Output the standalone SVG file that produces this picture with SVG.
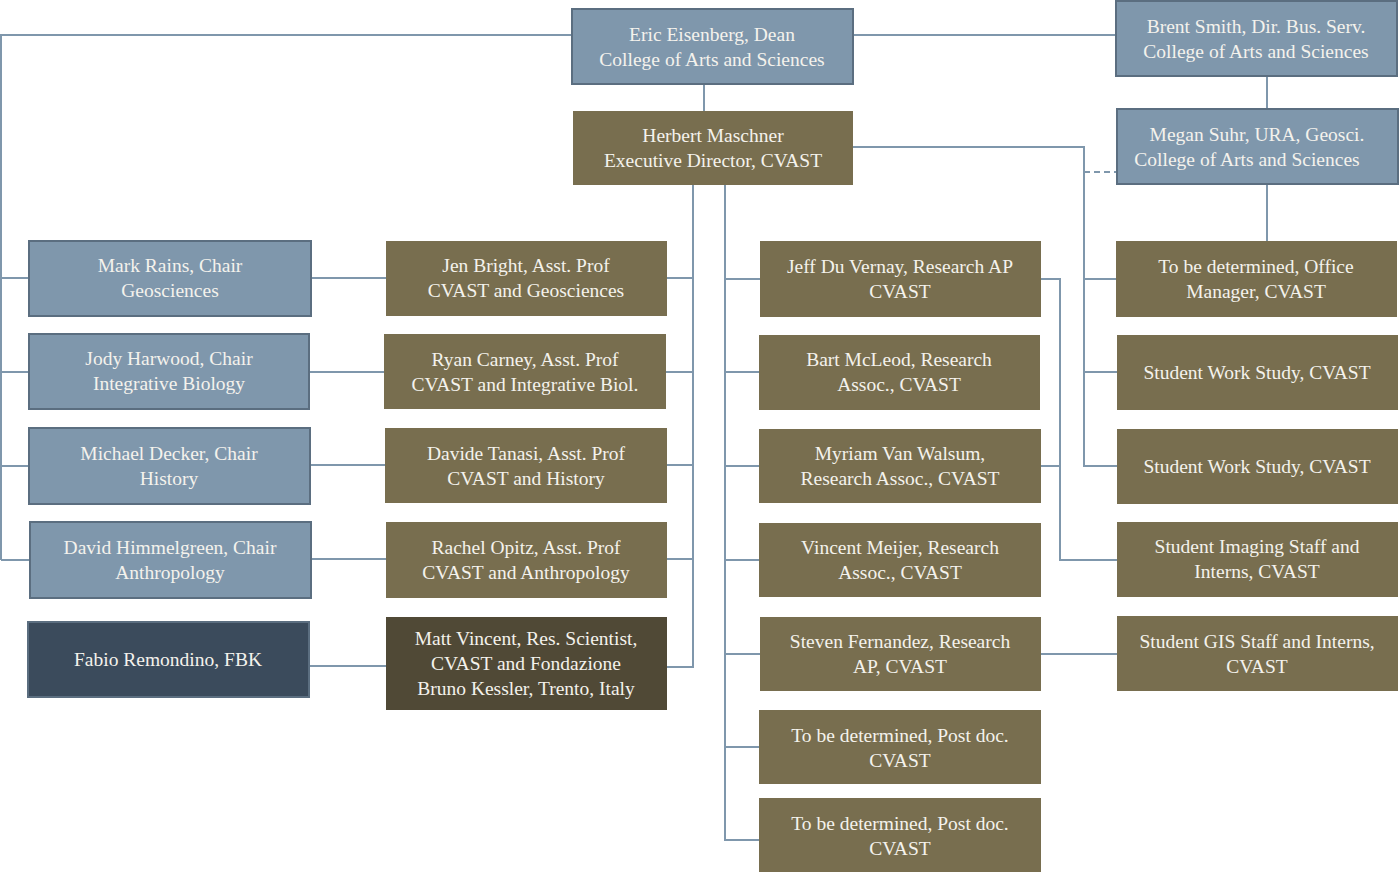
<svg xmlns="http://www.w3.org/2000/svg" width="1400" height="874" viewBox="0 0 1400 874">
<style>
.b{fill:#7f97ac;stroke:#5b6e80;stroke-width:2}
.o{fill:#786e4f}
.d{fill:#504936}
.n{fill:#3b4b5c;stroke:#5b6e80;stroke-width:2}
text{font-family:"Liberation Serif","Times New Roman",serif;font-size:19.5px;fill:#f4f2ec;text-anchor:middle}
.c{fill:none;stroke:#7f97ac;stroke-width:2}
.dash{stroke-dasharray:6 4}
</style>
<rect width="1400" height="874" fill="#fff"/>
<g id="connectors">
<path class="c" d="M572 35H1V560M1 278H29M1 372H29M1 466H29M1 560H30"/>
<path class="c" d="M853 35H1116"/>
<path class="c" d="M704 84V111"/>
<path class="c" d="M1267 76V109M1267 184V241"/>
<path class="c dash" d="M1084 172H1117"/>
<path class="c" d="M853 147H1084V466H1117M1084 279H1116M1084 372H1117"/>
<path class="c" d="M693 185V667H667M693 278H667M693 372H666M693 465H667M693 559H667"/>
<path class="c" d="M725 185V840H759M725 279H760M725 372H759M725 466H759M725 560H759M725 654H760M725 747H759"/>
<path class="c" d="M311 278H386M309 372H384M310 465H385M311 559H386M309 666H386"/>
<path class="c" d="M1041 279H1060V560H1117M1041 466H1060"/>
<path class="c" d="M1041 654H1117"/>
</g>
<g id="eric"><rect class="b" x="572" y="9" width="281" height="75"/><text x="712" y="41">Eric Eisenberg, Dean</text><text x="712" y="66">College of Arts and Sciences</text></g>
<g id="herbert"><rect class="o" x="573" y="111" width="280" height="74"/><text x="713" y="142">Herbert Maschner</text><text x="713" y="167">Executive Director, CVAST</text></g>
<g id="brent"><rect class="b" x="1116" y="1" width="281" height="75"/><text x="1256" y="33">Brent Smith, Dir. Bus. Serv.</text><text x="1256" y="58">College of Arts and Sciences</text></g>
<g id="megan"><rect class="b" x="1117" y="109" width="281" height="75"/><text x="1257" y="141">Megan Suhr, URA, Geosci.</text><text x="1247" y="166">College of Arts and Sciences</text></g>
<g id="mark"><rect class="b" x="29" y="241" width="282" height="75"/><text x="170" y="272">Mark Rains, Chair</text><text x="170" y="297">Geosciences</text></g>
<g id="jody"><rect class="b" x="29" y="334" width="280" height="75"/><text x="169" y="365">Jody Harwood, Chair</text><text x="169" y="390">Integrative Biology</text></g>
<g id="michael"><rect class="b" x="29" y="428" width="281" height="76"/><text x="169" y="460">Michael Decker, Chair</text><text x="169" y="485">History</text></g>
<g id="david"><rect class="b" x="30" y="522" width="281" height="76"/><text x="170" y="554">David Himmelgreen, Chair</text><text x="170" y="579">Anthropology</text></g>
<g id="fabio"><rect class="n" x="28" y="622" width="281" height="75"/><text x="168" y="666">Fabio Remondino, FBK</text></g>
<g id="jen"><rect class="o" x="386" y="241" width="281" height="75"/><text x="526" y="272">Jen Bright, Asst. Prof</text><text x="526" y="297">CVAST and Geosciences</text></g>
<g id="ryan"><rect class="o" x="384" y="334" width="282" height="75"/><text x="525" y="366">Ryan Carney, Asst. Prof</text><text x="525" y="391">CVAST and Integrative Biol.</text></g>
<g id="davide"><rect class="o" x="385" y="428" width="282" height="75"/><text x="526" y="460">Davide Tanasi, Asst. Prof</text><text x="526" y="485">CVAST and History</text></g>
<g id="rachel"><rect class="o" x="386" y="522" width="281" height="76"/><text x="526" y="554">Rachel Opitz, Asst. Prof</text><text x="526" y="579">CVAST and Anthropology</text></g>
<g id="matt"><rect class="d" x="386" y="617" width="281" height="93"/><text x="526" y="645">Matt Vincent, Res. Scientist,</text><text x="526" y="670">CVAST and Fondazione</text><text x="526" y="695">Bruno Kessler, Trento, Italy</text></g>
<g id="jeff"><rect class="o" x="760" y="241" width="281" height="76"/><text x="900" y="273">Jeff Du Vernay, Research AP</text><text x="900" y="298">CVAST</text></g>
<g id="bart"><rect class="o" x="759" y="335" width="281" height="75"/><text x="899" y="366">Bart McLeod, Research</text><text x="899" y="391">Assoc., CVAST</text></g>
<g id="myriam"><rect class="o" x="759" y="429" width="282" height="74"/><text x="900" y="460">Myriam Van Walsum,</text><text x="900" y="485">Research Assoc., CVAST</text></g>
<g id="vincent"><rect class="o" x="759" y="523" width="282" height="74"/><text x="900" y="554">Vincent Meijer, Research</text><text x="900" y="579">Assoc., CVAST</text></g>
<g id="steven"><rect class="o" x="760" y="617" width="281" height="74"/><text x="900" y="648">Steven Fernandez, Research</text><text x="900" y="673">AP, CVAST</text></g>
<g id="postdoc1"><rect class="o" x="759" y="710" width="282" height="74"/><text x="900" y="742">To be determined, Post doc.</text><text x="900" y="767">CVAST</text></g>
<g id="postdoc2"><rect class="o" x="759" y="798" width="282" height="74"/><text x="900" y="830">To be determined, Post doc.</text><text x="900" y="855">CVAST</text></g>
<g id="office"><rect class="o" x="1116" y="241" width="281" height="76"/><text x="1256" y="273">To be determined, Office</text><text x="1256" y="298">Manager, CVAST</text></g>
<g id="work1"><rect class="o" x="1117" y="335" width="281" height="75"/><text x="1257" y="379">Student Work Study, CVAST</text></g>
<g id="work2"><rect class="o" x="1117" y="429" width="281" height="75"/><text x="1257" y="473">Student Work Study, CVAST</text></g>
<g id="imaging"><rect class="o" x="1117" y="522" width="281" height="75"/><text x="1257" y="553">Student Imaging Staff and</text><text x="1257" y="578">Interns, CVAST</text></g>
<g id="gis"><rect class="o" x="1117" y="616" width="281" height="75"/><text x="1257" y="648">Student GIS Staff and Interns,</text><text x="1257" y="673">CVAST</text></g>
</svg>
